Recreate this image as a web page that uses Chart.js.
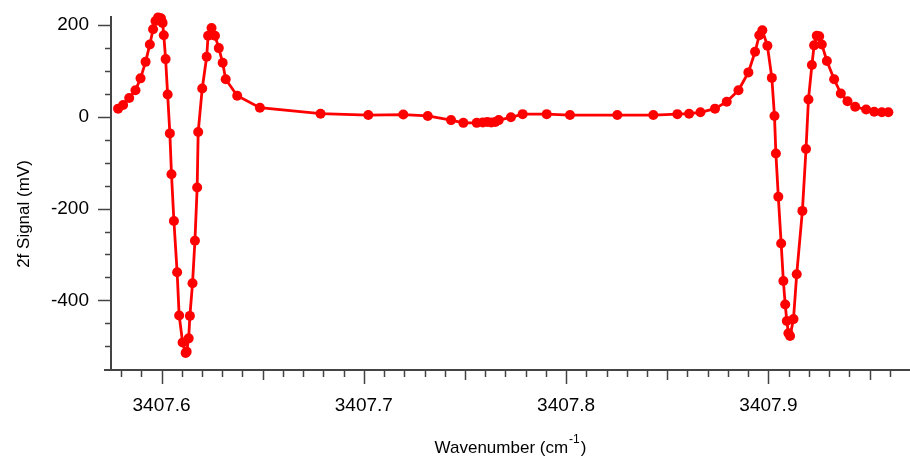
<!DOCTYPE html>
<html>
<head>
<meta charset="utf-8">
<script src="https://cdn.jsdelivr.net/npm/chart.js@4.4.0/dist/chart.umd.min.js"></script>
<style>
  html, body { margin: 0; padding: 0; background: #fff; }
  #wrap { width: 910px; height: 460px; }
</style>
</head>
<body>
<div id="wrap"><canvas id="grafica"></canvas></div>
<script>
// datos
const wavenumber = [
  3407.5785, 3407.5810, 3407.5840, 3407.5871, 3407.5896, 3407.5921, 3407.5942, 3407.5958,
  3407.5970, 3407.5983, 3407.5997, 3407.6005, 3407.6011, 3407.6020, 3407.6030, 3407.6041,
  3407.6049, 3407.6061, 3407.6077, 3407.6087, 3407.6104, 3407.6119, 3407.6124, 3407.6134,
  3407.6140, 3407.6153, 3407.6165, 3407.6176, 3407.6181, 3407.6201, 3407.6223, 3407.6230,
  3407.6247, 3407.6264, 3407.6283, 3407.6302, 3407.6317, 3407.6374, 3407.6486,
  3407.6786, 3407.7022, 3407.7195, 3407.7316, 3407.7431, 3407.7492, 3407.7558, 3407.7588,
  3407.7610, 3407.7630, 3407.7650, 3407.7667, 3407.7727, 3407.7785, 3407.7904, 3407.8019,
  3407.8253, 3407.8431, 3407.8550, 3407.8608, 3407.8664, 3407.8736, 3407.8794,
  3407.8852, 3407.8901, 3407.8934, 3407.8955, 3407.8970, 3407.8995, 3407.9017, 3407.9030,
  3407.9037, 3407.9049, 3407.9063, 3407.9074, 3407.9083, 3407.9091, 3407.9099, 3407.9107,
  3407.9124, 3407.9140, 3407.9168, 3407.9186, 3407.9198, 3407.9215, 3407.9226, 3407.9239,
  3407.9251, 3407.9264, 3407.9289, 3407.9325, 3407.9358, 3407.9391, 3407.9429, 3407.9483,
  3407.9523, 3407.9561, 3407.9593
];
const signal = [
  18, 26, 41, 58, 84, 120, 158, 191,
  209, 217, 215, 205, 178, 126, 49, -36,
  -125, -227, -339, -433, -492, -515, -512, -483,
  -434, -363, -270, -154, -33, 62, 131, 177,
  194, 177, 150, 118, 82, 46, 20,
  7, 4, 5, 2, -7, -13, -13, -12,
  -11, -12, -11, -7, -1, 6, 6, 4,
  4, 4, 6, 7, 10, 18, 33,
  58, 97, 142, 178, 189, 155, 85, 2,
  -80, -174, -276, -358, -409, -445, -472, -478,
  -441, -343, -205, -70, 38, 113, 156, 177,
  176, 158, 122, 82, 51, 34, 22, 16,
  11, 10, 10
];
const xTicks = [3407.6, 3407.7, 3407.8, 3407.9];
const yTicks = [-400, -200, 0, 200];

const puntos = wavenumber.map((x, i) => ({ x: x, y: signal[i] }));

const colorEje = '#444';
const fuente = '"Liberation Sans", Arial, Helvetica, sans-serif';

// quitar el relleno que Chart.js agrega por las etiquetas
const sinRelleno = (s) => {
  s.paddingTop = 0;
  s.paddingBottom = 0;
  s.paddingLeft = 0;
  s.paddingRight = 0;
};

// ejes, marcas menores y titulos estilo Igor
const ejesPlugin = {
  id: 'ejes',
  afterDraw(chart) {
    const ctx = chart.ctx;
    const a = chart.chartArea;
    const xs = chart.scales.x;
    const ys = chart.scales.y;
    ctx.save();
    ctx.strokeStyle = colorEje;
    ctx.lineWidth = 2;
    ctx.beginPath();
    ctx.moveTo(a.left, a.top);
    ctx.lineTo(a.left, a.bottom);
    ctx.moveTo(a.left - 7, a.bottom);
    ctx.lineTo(a.right, a.bottom);
    ctx.stroke();

    ctx.lineWidth = 1.5;
    ctx.beginPath();
    for (let k = 358; k <= 397; k++) {
      const v = k / 100 + 3404;
      const px = Math.round(xs.getPixelForValue(v)) + 0.5;
      if (px < a.left + 3 || px > a.right) continue;
      let len = 7;
      if (k % 10 === 0) len = 14;
      else if (k % 5 === 0) len = 10;
      ctx.moveTo(px, a.bottom);
      ctx.lineTo(px, a.bottom + len);
    }
    for (let v = -500; v <= 200; v += 50) {
      const py = Math.round(ys.getPixelForValue(v)) + 0.5;
      const len = v % 200 === 0 ? 13 : 6;
      ctx.moveTo(a.left, py);
      ctx.lineTo(a.left - len, py);
    }
    ctx.stroke();

    // titulo eje y
    ctx.fillStyle = '#000';
    ctx.font = '17px ' + fuente;
    ctx.textAlign = 'center';
    ctx.textBaseline = 'middle';
    ctx.save();
    ctx.translate(24, 214);
    ctx.rotate(-Math.PI / 2);
    ctx.fillText('2f Signal (mV)', 0, 0);
    ctx.restore();

    // titulo eje x con superindice
    const t1 = 'Wavenumber (cm';
    const t2 = '-1';
    const t3 = ')';
    ctx.font = '17px ' + fuente;
    const w1 = ctx.measureText(t1).width;
    const w3 = ctx.measureText(t3).width;
    ctx.font = '12px ' + fuente;
    const w2 = ctx.measureText(t2).width;
    const total = w1 + w2 + w3 + 2;
    let x0 = (a.left + a.right) / 2 - total / 2;
    const yb = 453;
    ctx.textAlign = 'left';
    ctx.textBaseline = 'alphabetic';
    ctx.font = '17px ' + fuente;
    ctx.fillText(t1, x0, yb);
    ctx.font = '12px ' + fuente;
    ctx.fillText(t2, x0 + w1 + 1, yb - 10);
    ctx.font = '17px ' + fuente;
    ctx.fillText(t3, x0 + w1 + w2 + 2, yb);
    ctx.restore();
  }
};

const ctx = document.getElementById('grafica').getContext('2d');
const grafica = new Chart(ctx, {
  type: 'line',
  data: {
    datasets: [
      {
        label: '2f',
        data: puntos,
        borderColor: '#ff0000',
        backgroundColor: '#ff0000',
        borderWidth: 2.8,
        pointRadius: 5,
        pointHoverRadius: 5,
        pointBorderWidth: 0,
        tension: 0,
        fill: false,
        clip: false
      }
    ]
  },
  options: {
    responsive: true,
    maintainAspectRatio: false,
    animation: false,
    layout: {
      autoPadding: false,
      padding: { top: 16, right: 0, left: 0, bottom: 0 }
    },
    plugins: {
      legend: { display: false },
      tooltip: { enabled: false }
    },
    scales: {
      x: {
        type: 'linear',
        min: 3407.575,
        max: 3407.970,
        afterBuildTicks: (s) => { s.ticks = xTicks.map((v) => ({ value: v })); },
        afterFit: (s) => { s.height = 90; sinRelleno(s); },
        grid: { display: false, drawTicks: false },
        border: { display: false },
        ticks: {
          color: '#000',
          font: { family: fuente, size: 19 },
          padding: 24,
          maxRotation: 0,
          callback: (v) => v.toFixed(1)
        }
      },
      y: {
        min: -552,
        max: 220,
        afterBuildTicks: (s) => { s.ticks = yTicks.map((v) => ({ value: v })); },
        afterFit: (s) => { s.width = 111; sinRelleno(s); },
        grid: { display: false, drawTicks: false },
        border: { display: false },
        ticks: {
          color: '#000',
          font: { family: fuente, size: 19 },
          padding: 22,
          callback: (v) => String(v)
        }
      }
    }
  },
  plugins: [ejesPlugin]
});
</script>
</body>
</html>
